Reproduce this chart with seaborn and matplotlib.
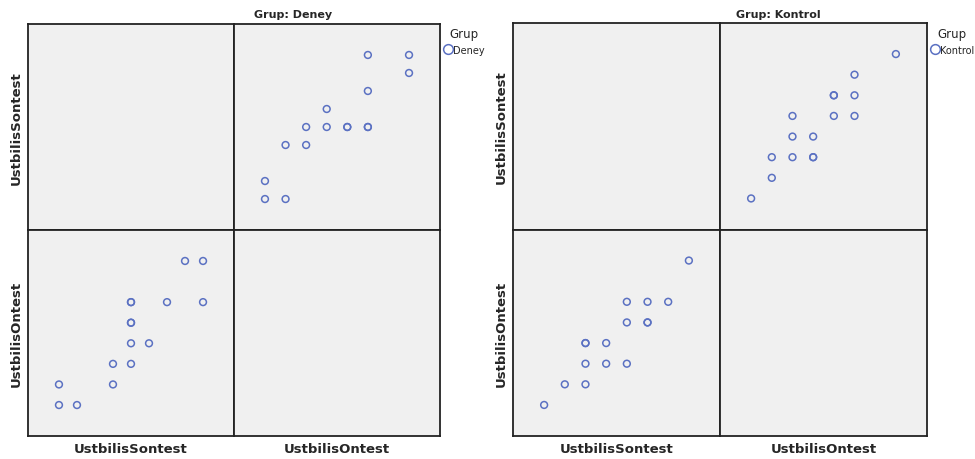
import matplotlib
matplotlib.use("Agg")
import matplotlib.pyplot as plt
from matplotlib.lines import Line2D
import seaborn as sns
import pandas as pd

# Scores (pairs of Ontest / Sontest per subject)
groups = ["Deney", "Kontrol"]
deney_ontest = [15, 17, 17, 15, 13, 12, 13, 14, 14, 15, 15, 11, 12, 10, 10, 11]
deney_sontest = [20, 20, 19, 18, 17, 16, 16, 16, 16, 16, 16, 15, 15, 13, 12, 12]
kontrol_ontest = [17, 15, 14, 14, 15, 12, 14, 15, 12, 13, 11, 12, 13, 13, 11, 10]
kontrol_sontest = [20, 19, 18, 18, 18, 17, 17, 17, 16, 16, 15, 15, 15, 15, 14, 13]
variables = ["UstbilisSontest", "UstbilisOntest"]

df = pd.concat([
    pd.DataFrame({"Grup": "Deney", "UstbilisOntest": deney_ontest, "UstbilisSontest": deney_sontest}),
    pd.DataFrame({"Grup": "Kontrol", "UstbilisOntest": kontrol_ontest, "UstbilisSontest": kontrol_sontest}),
])

sns.set_style("white")
plt.rcParams["font.family"] = ["DejaVu Sans"]

W, H = 975, 460
fig = plt.figure(figsize=(W / 100, H / 100), dpi=100)

point_color = "#5b71c2"
bg = "#f0f0f0"

# pixel boxes of each matrix: (left, top, cell width, cell height)
boxes = {"Deney": (28, 25, 206, 206), "Kontrol": (513, 24, 207, 206.5)}
titles_x = {"Deney": 293, "Kontrol": 778}

def px_axes(left, top, w, h):
    return fig.add_axes([left / W, 1 - (top + h) / H, w / W, h / H])

for grp in groups:
    sub = df[df["Grup"] == grp]
    left, top, cw, ch = boxes[grp]
    for r, yvar in enumerate(variables):
        for c, xvar in enumerate(variables):
            ax = px_axes(left + c * cw, top + r * ch, cw, ch)
            ax.set_facecolor(bg)
            if xvar != yvar:
                sns.scatterplot(data=sub, x=xvar, y=yvar, ax=ax, s=24,
                                facecolor="none", edgecolor=point_color,
                                linewidth=1.1, legend=False)
                ax.margins(x=0.215, y=0.215)
            ax.set_xticks([])
            ax.set_yticks([])
            ax.set_xlabel("")
            ax.set_ylabel("")
            for sp in ax.spines.values():
                sp.set_visible(True)
                sp.set_color("#222222")
                sp.set_linewidth(1.3)
            if c == 0:
                ax.set_ylabel(yvar, fontsize=9.5, fontweight="bold", labelpad=4)
            if r == 1:
                ax.set_xlabel(xvar, fontsize=9.5, fontweight="bold", labelpad=4)

    fig.text(titles_x[grp] / W, 1 - 15 / H, f"Grup: {grp}", ha="center", va="center",
             fontsize=8, fontweight="bold")
    handle = Line2D([], [], marker="o", linestyle="none", markerfacecolor="none",
                    markeredgecolor=point_color, markersize=7, markeredgewidth=1.1)
    fig.legend(handles=[handle], labels=[grp], title="Grup", loc="upper left",
               bbox_to_anchor=((left + 2 * cw + 1) / W, 1 - 26 / H), frameon=False,
               fontsize=7, title_fontsize=8.5, handletextpad=0.05,
               handlelength=1.0, borderpad=0.2, borderaxespad=0)

fig.savefig("out.png", dpi=100, facecolor="white")
